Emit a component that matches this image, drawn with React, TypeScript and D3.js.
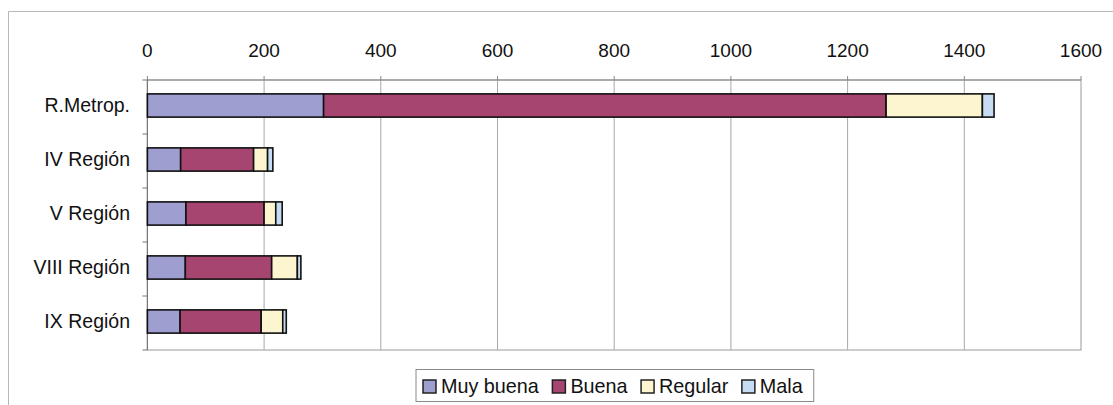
import React, { useEffect, useRef } from "react";
import * as d3 from "d3";

const categories = ["R.Metrop.", "IV Región", "V Región", "VIII Región", "IX Región"];
const seriesNames = ["Muy buena", "Buena", "Regular", "Mala"];
const muyBuena = [302, 57, 66, 65, 56];
const buena = [964, 125, 134, 148, 139];
const regular = [165, 24, 20, 44, 37];
const mala = [20, 9, 11, 6, 6];
const tickValues = [0, 200, 400, 600, 800, 1000, 1200, 1400, 1600];
const colors = ["#9e9ed0", "#a6456f", "#fcf5d0", "#c6dcf2"];

const W = 1113;
const H = 405;

export default function App() {
  const ref = useRef<SVGSVGElement>(null);

  useEffect(() => {
    const svg = d3.select(ref.current);
    svg.selectAll("*").remove();
    const font = "'Liberation Sans', Arial, sans-serif";

    const left = 147.4, right = 1081, top = 80, bottom = 350;
    const x = d3.scaleLinear().domain([0, 1600]).range([left, right]);
    const y = d3.scaleBand<string>().domain(categories).range([top, bottom]).paddingInner(0.57).paddingOuter(0.285);

    // outer frame
    svg.append("rect").attr("x", 0).attr("y", 0).attr("width", W).attr("height", H).attr("fill", "#fff");
    svg.append("path").attr("d", `M8.5,${H} V11.5 H${W}`).attr("fill", "none").attr("stroke", "#b8b8b8").attr("stroke-width", 1);

    // plot border
    svg.append("rect").attr("x", left).attr("y", top).attr("width", right - left).attr("height", bottom - top)
      .attr("fill", "none").attr("stroke", "#9a9a9a").attr("stroke-width", 1);

    // grid lines
    svg.append("g").selectAll("line").data(tickValues.slice(1, -1)).join("line")
      .attr("x1", d => x(d)).attr("x2", d => x(d)).attr("y1", top).attr("y2", bottom)
      .attr("stroke", "#a8a8a8").attr("stroke-width", 1);

    // top axis ticks
    svg.append("g").selectAll("line").data(tickValues).join("line")
      .attr("x1", d => x(d)).attr("x2", d => x(d)).attr("y1", top - 4).attr("y2", top)
      .attr("stroke", "#888").attr("stroke-width", 1);
    svg.append("line").attr("x1", left).attr("x2", right).attr("y1", top).attr("y2", top)
      .attr("stroke", "#888").attr("stroke-width", 1.2);

    // tick labels
    svg.append("g").selectAll("text").data(tickValues).join("text")
      .attr("x", d => x(d)).attr("y", 57).attr("text-anchor", "middle")
      .attr("font-family", font).attr("font-size", 19).attr("fill", "#111")
      .text(d => String(d));

    // left axis
    svg.append("line").attr("x1", left).attr("x2", left).attr("y1", top).attr("y2", bottom)
      .attr("stroke", "#777").attr("stroke-width", 1.2);
    const bounds = categories.map(c => (y(c) as number) - (y.step() - y.bandwidth()) / 2).concat([bottom]);
    svg.append("g").selectAll("line").data(bounds).join("line")
      .attr("x1", left - 5).attr("x2", left).attr("y1", d => d).attr("y2", d => d)
      .attr("stroke", "#777").attr("stroke-width", 1);

    // category labels
    svg.append("g").selectAll("text").data(categories).join("text")
      .attr("x", 130).attr("y", d => (y(d) as number) + y.bandwidth() / 2 - 1.5)
      .attr("dy", "0.35em").attr("text-anchor", "end")
      .attr("font-family", font).attr("font-size", 19.5).attr("fill", "#111")
      .text(d => d);

    // stacked bars
    const rows = categories.map((c, i) => ({ cat: c, "Muy buena": muyBuena[i], Buena: buena[i], Regular: regular[i], Mala: mala[i] }));
    const stack = d3.stack<any>().keys(seriesNames)(rows);
    stack.forEach((layer, si) => {
      svg.append("g").selectAll("rect").data(layer).join("rect")
        .attr("x", d => x(d[0]))
        .attr("y", d => (y(d.data.cat) as number) - 1.5)
        .attr("width", d => x(d[1]) - x(d[0]))
        .attr("height", y.bandwidth())
        .attr("fill", colors[si])
        .attr("stroke", "#111").attr("stroke-width", 1.6);
    });

    // legend
    const lg = svg.append("g");
    const lgBox = lg.append("rect").attr("fill", "#fff").attr("stroke", "#8a8a8a").attr("stroke-width", 1);
    let cx = 423;
    const cy = 386.5;
    const gap = 13.5;
    seriesNames.forEach((name, i) => {
      lg.append("rect").attr("x", cx).attr("y", cy - 6.5).attr("width", 13).attr("height", 13)
        .attr("fill", colors[i]).attr("stroke", "#222").attr("stroke-width", 1.5);
      const t = lg.append("text").attr("x", cx + 18).attr("y", cy).attr("dy", "0.35em")
        .attr("font-family", font).attr("font-size", 19.8).attr("fill", "#111").text(name);
      const w = (t.node() as SVGTextElement).getComputedTextLength();
      cx = cx + 18 + w + gap;
    });
    lgBox.attr("x", 416).attr("y", 369.5).attr("width", cx - gap + 11 - 416).attr("height", 32);
  }, []);

  return (
    <svg ref={ref} width={W} height={H} style={{ position: "absolute", left: 0, top: 0, display: "block" }} />
  );
}
